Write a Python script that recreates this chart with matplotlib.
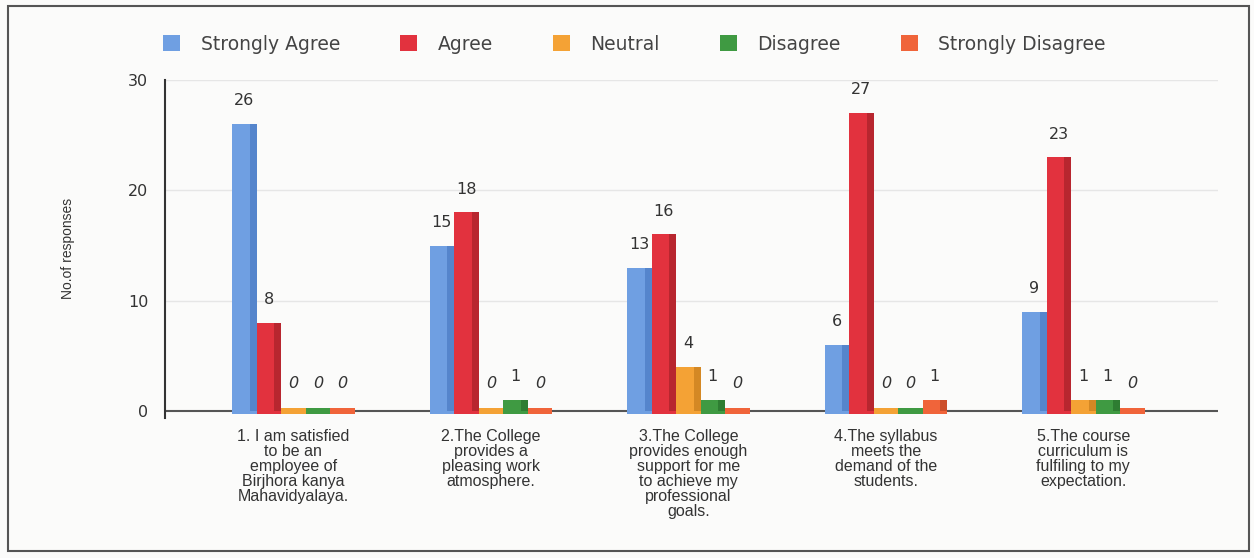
import matplotlib
matplotlib.use("Agg")
import matplotlib.pyplot as plt
import numpy as np
from matplotlib.patches import Rectangle

categories = [
    "1. I am satisfied\nto be an\nemployee of\nBirjhora kanya\nMahavidyalaya.",
    "2.The College\nprovides a\npleasing work\natmosphere.",
    "3.The College\nprovides enough\nsupport for me\nto achieve my\nprofessional\ngoals.",
    "4.The syllabus\nmeets the\ndemand of the\nstudents.",
    "5.The course\ncurriculum is\nfulfiling to my\nexpectation.",
]
series_names = ["Strongly Agree", "Agree", "Neutral", "Disagree", "Strongly Disagree"]
strongly_agree = [26, 15, 13, 6, 9]
agree = [8, 18, 16, 27, 23]
neutral = [0, 0, 4, 0, 1]
disagree = [0, 1, 1, 0, 1]
strongly_disagree = [0, 0, 0, 1, 0]
yticks = [0, 10, 20, 30]

series = [strongly_agree, agree, neutral, disagree, strongly_disagree]
colors = ["#6f9fe2", "#e2323e", "#f4a235", "#3f9a42", "#f0643a"]
dark = ["#5585cc", "#b8262f", "#d48824", "#2e7d32", "#cc4e2a"]

fig = plt.figure(figsize=(12.54, 5.58), dpi=100)
fig.patch.set_facecolor("#fbfbfa")
ax = fig.add_axes([0.1316, 0.2516, 0.8394, 0.605])
ax.set_facecolor("#fbfbfa")

x = np.arange(len(categories))
w = 0.124
for i, (vals, c, dc, name) in enumerate(zip(series, colors, dark, series_names)):
    xs = x + (i - 2) * w
    ax.bar(xs, vals, width=w, color=c, label=name, zorder=3)
    # darker side strip for pseudo-3D
    ax.bar(xs + w * 0.36, vals, width=w * 0.28, color=dc, zorder=3.1)
    # base slab
    ax.bar(xs, [0.5] * len(vals), bottom=-0.25, width=w, color=c, zorder=2.9)
    for xi, v in zip(xs, vals):
        ax.text(xi, v + 2.1 + (0.4 if v == 0 else 0), str(v), ha="center", va="center",
                fontsize=11.5, color="#333333", style="italic" if v == 0 else "normal", zorder=5)

ax.set_xlim(-0.65, 4.68)
ax.set_ylim(-0.6, 30)
ax.set_yticks(yticks)
ax.set_yticklabels([str(t) for t in yticks], fontsize=11.5, color="#333333")
for t in yticks[1:]:
    ax.axhline(t, color="#e6e6e6", lw=1, zorder=1)
ax.axhline(0, color="#555555", lw=1.5, zorder=2)
ax.set_xticks(x)
ax.set_xticklabels(categories, fontsize=11.5, color="#333333", linespacing=1.0,
                   family=["Liberation Sans", "DejaVu Sans"])
ax.tick_params(axis="x", length=0, pad=8)
ax.tick_params(axis="y", length=0, pad=12)
for s in ["top", "right", "bottom"]:
    ax.spines[s].set_visible(False)
ax.spines["left"].set_color("#333333")
ax.spines["left"].set_linewidth(1.5)
ax.set_ylabel("No.of responses", fontsize=10, color="#333333", labelpad=38,
              family=["Liberation Sans", "DejaVu Sans"])

leg = fig.legend(loc="center", bbox_to_anchor=(0.506, 0.921), ncol=5, frameon=False,
                 fontsize=13.5, handlelength=0.9, handleheight=0.9, columnspacing=3.2,
                 handletextpad=1.1)
for t in leg.get_texts():
    t.set_color("#444444")

fig.add_artist(Rectangle((0.006, 0.012), 0.99, 0.978, transform=fig.transFigure,
                         fill=False, edgecolor="#555555", lw=1.5))

fig.savefig("out.png", dpi=100, facecolor=fig.get_facecolor())
